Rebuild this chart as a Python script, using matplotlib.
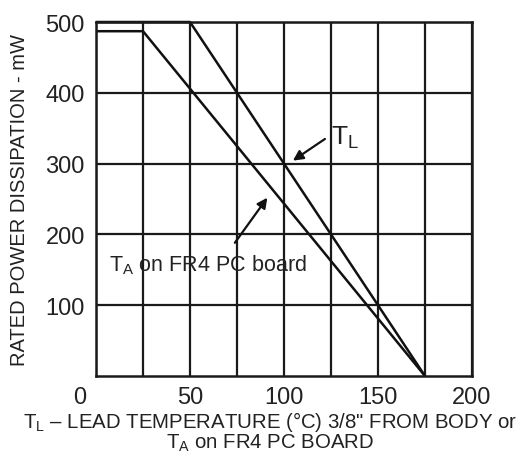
import matplotlib
matplotlib.use("Agg")
import matplotlib.pyplot as plt
import matplotlib.transforms as mtransforms
import numpy as np

plt.rcParams['font.family'] = ['Liberation Sans', 'DejaVu Sans']
plt.rcParams['mathtext.fontset'] = 'custom'
plt.rcParams['mathtext.rm'] = 'Liberation Sans'
plt.rcParams['mathtext.it'] = 'Liberation Sans'

# Data
tl_temp = [0, 50, 175]
tl_power = [500, 500, 0]
ta_temp = [0, 25, 175]
ta_power = [487, 487, 0]
x_major = [0, 50, 100, 150, 200]
x_grid = [0, 25, 50, 75, 100, 125, 150, 175, 200]
y_ticks = [100, 200, 300, 400, 500]

fig = plt.figure(figsize=(5.27, 4.77), dpi=100)
ax = fig.add_axes([96/527, 1-377/477, (472-96)/527, (377-23)/477])

ax.set_xlim(0, 200)
ax.set_ylim(0, 500)
ax.set_xticks(x_grid)
ax.set_xticklabels([str(v) if v in x_major else '' for v in x_grid])
ax.set_yticks(y_ticks)
ax.set_yticklabels([str(v) for v in y_ticks])
ax.tick_params(length=0, labelsize=17, colors='#222222', pad=8)
ax.tick_params(axis='x', pad=7)
ax.grid(True, color='#1a1a1a', lw=1.6)
for s in ax.spines.values():
    s.set_linewidth(1.8)
    s.set_color('#1a1a1a')

# shift the "0" label left like the reference
lbl0 = ax.get_xticklabels()[0]
lbl0.set_transform(lbl0.get_transform() + mtransforms.ScaledTranslation(-16/100, 0, fig.dpi_scale_trans))

ax.plot(tl_temp, tl_power, color='#111111', lw=1.8, solid_capstyle='butt', clip_on=False)
ax.plot(ta_temp, ta_power, color='#111111', lw=1.8, solid_capstyle='butt', clip_on=False)

ax.annotate('', xy=(103.5, 302), xytext=(123, 337),
            arrowprops=dict(arrowstyle='-|>,head_length=0.6,head_width=0.3', color='#111111', lw=1.6))
ax.text(125, 338, r'$\mathrm{T_L}$', fontsize=19, color='#222222', va='center', ha='left')

ax.annotate('', xy=(92, 255), xytext=(73, 185),
            arrowprops=dict(arrowstyle='-|>,head_length=0.6,head_width=0.3', color='#111111', lw=1.6))
ax.text(7, 158, r'$\mathrm{T_A}$ on FR4 PC board', fontsize=15.5, color='#222222', va='center', ha='left')

ax.set_ylabel('RATED POWER DISSIPATION - mW', fontsize=14.5, color='#222222', labelpad=12)
fig.text(270/527, 1-422/477, r'$\mathrm{T_L}$ – LEAD TEMPERATURE (°C) 3/8" FROM BODY or',
         fontsize=14.7, color='#222222', ha='center', va='center')
fig.text(270/527, 1-443/477, r'$\mathrm{T_A}$ on FR4 PC BOARD',
         fontsize=14.7, color='#222222', ha='center', va='center')

fig.savefig('out.png', dpi=100)
